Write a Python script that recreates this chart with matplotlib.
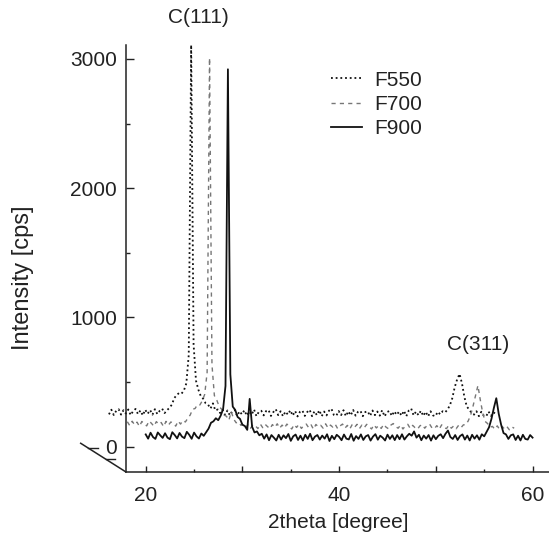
import numpy as np
import matplotlib
matplotlib.use("Agg")
import matplotlib.pyplot as plt

plt.rcParams['font.family'] = ['Liberation Sans', 'DejaVu Sans']

# 2theta grid, 0.25 degree steps from 20 to 60
two_theta = np.linspace(20, 60, 161)

# intensities (cps, before waterfall offset)
f550 = [60, 96, 55, 88, 100, 58, 92, 66,
        98, 54, 86, 102, 62, 90, 52, 96,
        64, 94, 58, 100, 62, 88, 104, 70,
        92, 110, 135, 185, 210, 225, 220, 245,
        300, 520, 2918, 600, 320, 250, 200, 180,
        145, 135, 105, 145, 90, 98, 70, 95,
        56, 90, 52, 86, 94, 48, 84, 60,
        92, 50, 82, 56, 98, 46, 80, 88,
        52, 86, 94, 48, 78, 100, 54, 84,
        45, 82, 58, 92, 50, 86, 44, 80,
        90, 48, 78, 96, 46, 84, 54, 92,
        46, 82, 52, 88, 104, 56, 48, 86,
        54, 92, 46, 84, 52, 94, 50, 80,
        88, 46, 78, 84, 48, 90, 54, 82,
        50, 92, 44, 78, 86, 48, 84, 56,
        82, 50, 88, 46, 90, 105, 52, 82,
        54, 88, 48, 80, 44, 84, 52, 46,
        80, 60, 84, 75, 96, 130, 185, 270,
        330, 373, 300, 195, 120, 98, 70, 58,
        84, 46, 80, 50, 44, 82, 48, 76,
        64]

f700 = [98, 68, 102, 74, 95, 62, 100, 80,
        66, 104, 85, 63, 99, 78, 92, 60,
        101, 72, 96, 86, 64, 103, 80, 108,
        96, 125, 150, 195, 200, 230, 228, 260,
        310, 480, 2913, 540, 300, 265, 215, 195,
        150, 140, 110, 175, 118, 90, 96, 70,
        82, 55, 78, 48, 75, 66, 45, 80,
        52, 78, 60, 44, 76, 55, 82, 48,
        72, 50, 80, 58, 42, 76, 54, 78,
        46, 70, 80, 52, 74, 40, 77, 58,
        70, 48, 82, 50, 72, 56, 78, 44,
        66, 80, 48, 70, 42, 76, 55, 78,
        45, 72, 52, 78, 60, 42, 74, 50,
        70, 46, 78, 56, 44, 72, 84, 60,
        48, 72, 42, 66, 78, 46, 70, 52,
        40, 66, 76, 48, 70, 80, 50, 44,
        68, 40, 74, 52, 45, 72, 48, 66,
        44, 70, 52, 74, 75, 105, 150, 220,
        300, 378, 265, 165, 100, 84, 55, 62,
        40, 66, 38, 62, 42, 60, 36, 58,
        48]

f900 = [95, 62, 108, 75, 60, 110, 88, 68,
        104, 70, 58, 112, 90, 64, 106, 78,
        66, 115, 92, 61, 109, 80, 63, 102,
        84, 112, 140, 185, 196, 220, 205, 240,
        290, 470, 2920, 560, 310, 285, 230, 215,
        170, 160, 130, 370, 155, 110, 118, 88,
        100, 62, 95, 50, 90, 70, 48, 92,
        55, 88, 66, 98, 45, 80, 94, 52,
        85, 48, 92, 60, 100, 50, 78, 90,
        55, 86, 62, 96, 44, 84, 58, 92,
        76, 50, 94, 62, 56, 98, 46, 82,
        60, 95, 52, 80, 90, 47, 78, 97,
        54, 85, 70, 48, 93, 60, 88, 51,
        90, 58, 96, 55, 80, 100, 85, 118,
        70, 92, 50, 86, 62, 90, 47, 88,
        58, 84, 96, 66, 100, 125, 75, 60,
        90, 52, 82, 95, 55, 86, 48, 92,
        62, 88, 54, 96, 80, 115, 150, 215,
        300, 375, 255, 170, 105, 95, 60, 88,
        95, 52, 85, 48, 92, 60, 55, 90,
        70]

samples = ["F550", "F700", "F900"]
intensities = [f550, f700, f900]

# waterfall: each sample pushed back in depth
depth_shift = [-3.8, -1.9, 0.0]
depth_lift = [190, 95, 0]
line_styles = [dict(color='#111111', linestyle=(0, (1, 1.6)), linewidth=1.3),
               dict(color='#777777', linestyle=(0, (3, 3)), linewidth=1.0),
               dict(color='#111111', linestyle='-', linewidth=1.3)]

fig = plt.figure(figsize=(5.49, 5.40), dpi=100)
ax = fig.add_axes([0.2286, 0.1265, 0.7714, 0.7902])

for name, vals, dx, dy, st in zip(samples, intensities, depth_shift, depth_lift, line_styles):
    ax.plot(two_theta + dx, np.array(vals) + dy, label=name, clip_on=False, **st)

ax.set_xlim(17.91, 61.7)
ax.set_ylim(-193.5, 3108)

for side in ['top', 'right']:
    ax.spines[side].set_visible(False)
for side in ['left', 'bottom']:
    ax.spines[side].set_linewidth(1.1)
    ax.spines[side].set_color('#222222')

ax.set_xticks([20, 30, 40, 50, 60])
ax.set_xticklabels(['20', '', '40', '', '60'])
ax.set_xticks([25, 35, 45, 55], minor=True)
ax.set_yticks([0, 1000, 2000, 3000])
ax.set_yticks([500, 1500, 2500], minor=True)
ax.tick_params(axis='x', which='major', direction='in', length=4, width=1, pad=10,
               labelsize=15, colors='#222222')
ax.tick_params(axis='x', which='minor', direction='in', length=2.5, width=1, colors='#222222')
ax.tick_params(axis='y', which='major', direction='in', length=6, width=1, pad=6,
               labelsize=15, colors='#222222')
ax.tick_params(axis='y', which='minor', direction='in', length=3, width=1, colors='#222222')

# depth axis running back from the origin
ax.plot([-0.1058, 0.0], [0.0666, 0.0], transform=ax.transAxes, color='#222222',
        linewidth=1.1, clip_on=False)
ax.plot([-0.0874, -0.0642], [0.0548, 0.0548], transform=ax.transAxes, color='#222222',
        linewidth=1.0, clip_on=False)
ax.plot([-0.0468, -0.0248], [0.0291, 0.0291], transform=ax.transAxes, color='#222222',
        linewidth=1.0, clip_on=False)

ax.text(25.4, 3317, "C(111)", ha='center', va='center', fontsize=15, color='#222222',
        clip_on=False)
ax.text(54.4, 787, "C(311)", ha='center', va='center', fontsize=15, color='#222222')

fig.text(23 / 549, 1 - 278 / 540, "Intensity [cps]", rotation=90, ha='center', va='center',
         fontsize=17, color='#222222')
fig.text(338 / 549, 1 - 523 / 540, "2theta [degree]", ha='center', va='center',
         fontsize=15, color='#222222')

leg = ax.legend(loc='upper left', bbox_to_anchor=(0.485, 0.94), frameon=False,
                handlelength=1.5, handletextpad=0.6, labelspacing=0.25, fontsize=15,
                borderaxespad=0, borderpad=0)
for t in leg.get_texts():
    t.set_color('#222222')

fig.savefig("out.png", dpi=100)
